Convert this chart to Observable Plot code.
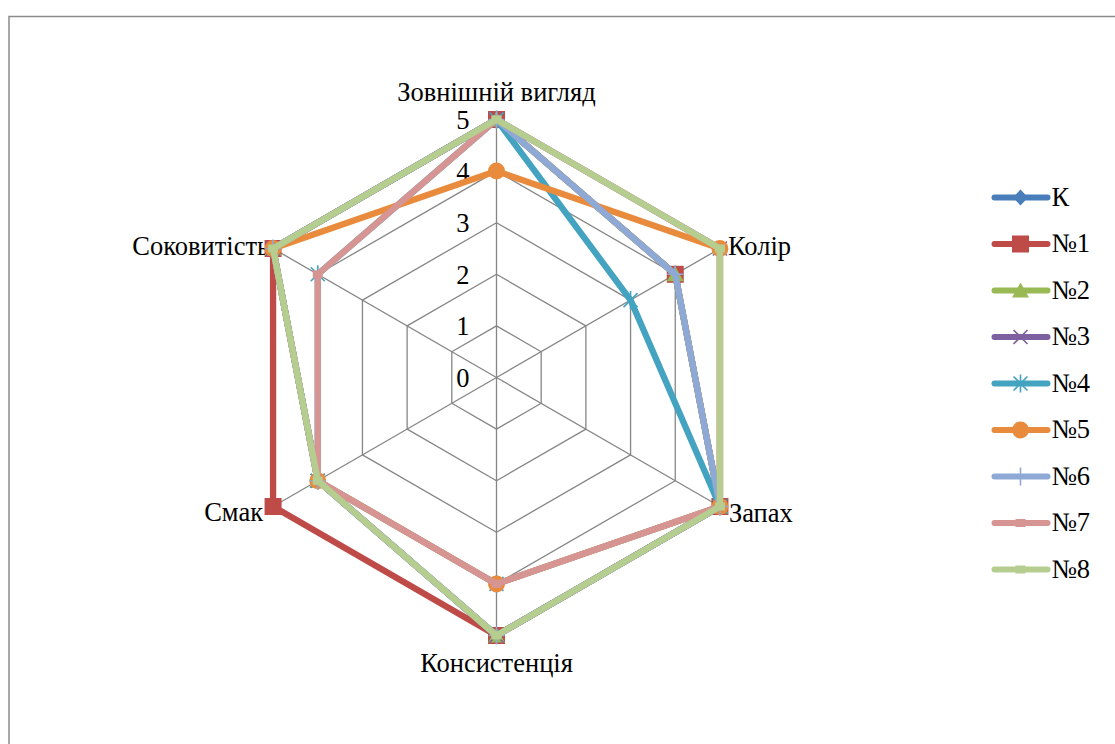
<!DOCTYPE html>
<html>
<head>
<meta charset="utf-8">
<script src="https://cdn.jsdelivr.net/npm/d3@7"></script>
<script src="https://cdn.jsdelivr.net/npm/@observablehq/plot@0.6"></script>
<style>
  html, body { margin: 0; padding: 0; background: #fff; overflow: hidden; }
  #chart svg { display: block; }
</style>
</head>
<body>
<div id="chart"></div>
<script>
// ---- data ----
const axes = ["Зовнішній вигляд", "Колір", "Запах", "Консистенція", "Смак", "Соковитість"];
const seriesNames = ["К", "№1", "№2", "№3", "№4", "№5", "№6", "№7", "№8"];
const valuesK  = [5, 4, 5, 5, 4, 5];
const values1  = [5, 4, 5, 5, 5, 5];
const values2  = [5, 4, 5, 5, 4, 5];
const values3  = [5, 5, 5, 5, 4, 5];
const values4  = [5, 3, 5, 4, 4, 4];
const values5  = [4, 5, 5, 4, 4, 5];
const values6  = [5, 4, 5, 5, 4, 5];
const values7  = [5, 5, 5, 4, 4, 4];
const values8  = [5, 5, 5, 5, 4, 5];
const tickValues = [0, 1, 2, 3, 4, 5];
const seriesValues = [valuesK, values1, values2, values3, values4, values5, values6, values7, values8];

// ---- styles ----
const colors = ["#4A7EBB", "#BE4B48", "#98B954", "#7D60A0", "#43A3C0", "#E98B3D", "#8FA9D6", "#D69593", "#B5CD8F"];
const sym = (f) => ({draw: f});
const markers = [
  {symbol: sym((c) => { c.moveTo(0, -8); c.lineTo(7.5, 0); c.lineTo(0, 8); c.lineTo(-7.5, 0); c.closePath(); }), filled: true},
  {symbol: sym((c) => { c.rect(-8.5, -8.5, 17, 17); }), filled: true},
  {symbol: sym((c) => { c.moveTo(0, -8); c.lineTo(8.5, 7); c.lineTo(-8.5, 7); c.closePath(); }), filled: true},
  {symbol: sym((c) => { c.moveTo(-7, -7); c.lineTo(7, 7); c.moveTo(7, -7); c.lineTo(-7, 7); }), filled: false},
  {symbol: sym((c) => { c.moveTo(-7, -7); c.lineTo(7, 7); c.moveTo(7, -7); c.lineTo(-7, 7); c.moveTo(0, -9); c.lineTo(0, 9); }), filled: false},
  {symbol: sym((c) => { c.moveTo(8.5, 0); c.arc(0, 0, 8.5, 0, 2 * Math.PI); }), filled: true},
  {symbol: sym((c) => { c.moveTo(0, -9); c.lineTo(0, 9); c.moveTo(-8, 0); c.lineTo(8, 0); }), filled: false},
  {symbol: sym((c) => { c.rect(-5, -4, 10, 8); }), filled: true},
  {symbol: sym((c) => { c.rect(-5, -4, 10, 8); }), filled: true}
];

// ---- layout ----
const W = 1115, H = 744;
const cx = 496, cy = 377, u = 51.6;
const toX = (px) => (px - cx) / u;
const toY = (py) => (cy - py) / u;
const polar = (v, i) => { const a = i * Math.PI / 3; return [v * Math.sin(a), v * Math.cos(a)]; };

const font = "Liberation Serif";
const fs = 26.5;
const gridColor = "#868686";

const marks = [];
marks.push(Plot.frame({stroke: "#8a8a8a", strokeWidth: 1.5, insetLeft: 8.5, insetTop: 16, insetRight: -20, insetBottom: -20}));

// grid hexagons
for (const lvl of tickValues.filter(t => t > 0)) {
  const ring = axes.map((a, i) => { const [x, y] = polar(lvl, i); return {x, y}; });
  marks.push(Plot.line(ring, {x: "x", y: "y", curve: "linear-closed", stroke: gridColor, strokeWidth: 1.3}));
}
// spokes
const maxV = d3.max(tickValues);
marks.push(Plot.link(axes.map((a, i) => polar(maxV, i)), {x1: 0, y1: 0, x2: d => d[0], y2: d => d[1], stroke: gridColor, strokeWidth: 1.3}));

// tick labels
marks.push(Plot.text(tickValues, {x: 0, y: d => d, text: d => String(d), dx: -27, dy: 1, textAnchor: "end", fontSize: fs, fontFamily: font, fill: "#000"}));

// axis labels
const labelPlace = [
  {textAnchor: "middle", dx: 0, dy: -27},
  {textAnchor: "start", dx: 8, dy: -2},
  {textAnchor: "start", dx: 9, dy: 7},
  {textAnchor: "middle", dx: 0, dy: 28},
  {textAnchor: "end", dx: -10, dy: 6},
  {textAnchor: "end", dx: -4, dy: -2}
];
axes.forEach((name, i) => {
  const [x, y] = polar(maxV, i);
  marks.push(Plot.text([name], {x: () => x, y: () => y, text: d => d, fontSize: fs, fontFamily: font, fill: "#000", ...labelPlace[i]}));
});

// series
seriesNames.forEach((name, s) => {
  const pts = seriesValues[s].map((v, i) => { const [x, y] = polar(v, i); return {series: name, axis: axes[i], value: v, x, y}; });
  marks.push(Plot.line(pts, {x: "x", y: "y", curve: "linear-closed", stroke: colors[s], strokeWidth: 6.3, strokeLinejoin: "round"}));
  const m = markers[s];
  marks.push(Plot.dot(pts, {x: "x", y: "y", r: 5, symbol: m.symbol,
    fill: m.filled ? colors[s] : "none", stroke: m.filled ? "none" : colors[s], strokeWidth: 1.6}));
});

// legend
const legY0 = 197, legStep = 46.5;
seriesNames.forEach((name, s) => {
  const py = legY0 + s * legStep;
  const row = [{name, y: toY(py)}];
  marks.push(Plot.link(row, {x1: toX(994), x2: toX(1047), y1: "y", y2: "y", stroke: colors[s], strokeWidth: 6, strokeLinecap: "round"}));
  const m = markers[s];
  marks.push(Plot.dot(row, {x: () => toX(1020), y: "y", r: 5, symbol: m.symbol,
    fill: m.filled ? colors[s] : "none", stroke: m.filled ? "none" : colors[s], strokeWidth: 1.6}));
  marks.push(Plot.text(row, {x: () => toX(1051), y: "y", text: "name", textAnchor: "start", fontSize: fs, fontFamily: font, fill: "#000"}));
});

const chart = Plot.plot({
  width: W, height: H,
  margin: 0,
  x: {type: "linear", domain: [toX(0), toX(W)], range: [0, W], axis: null},
  y: {type: "linear", domain: [toY(H), toY(0)], range: [H, 0], axis: null},
  style: {background: "#fff", overflow: "visible", fontFamily: font},
  marks
});
document.getElementById("chart").appendChild(chart);
</script>
</body>
</html>
